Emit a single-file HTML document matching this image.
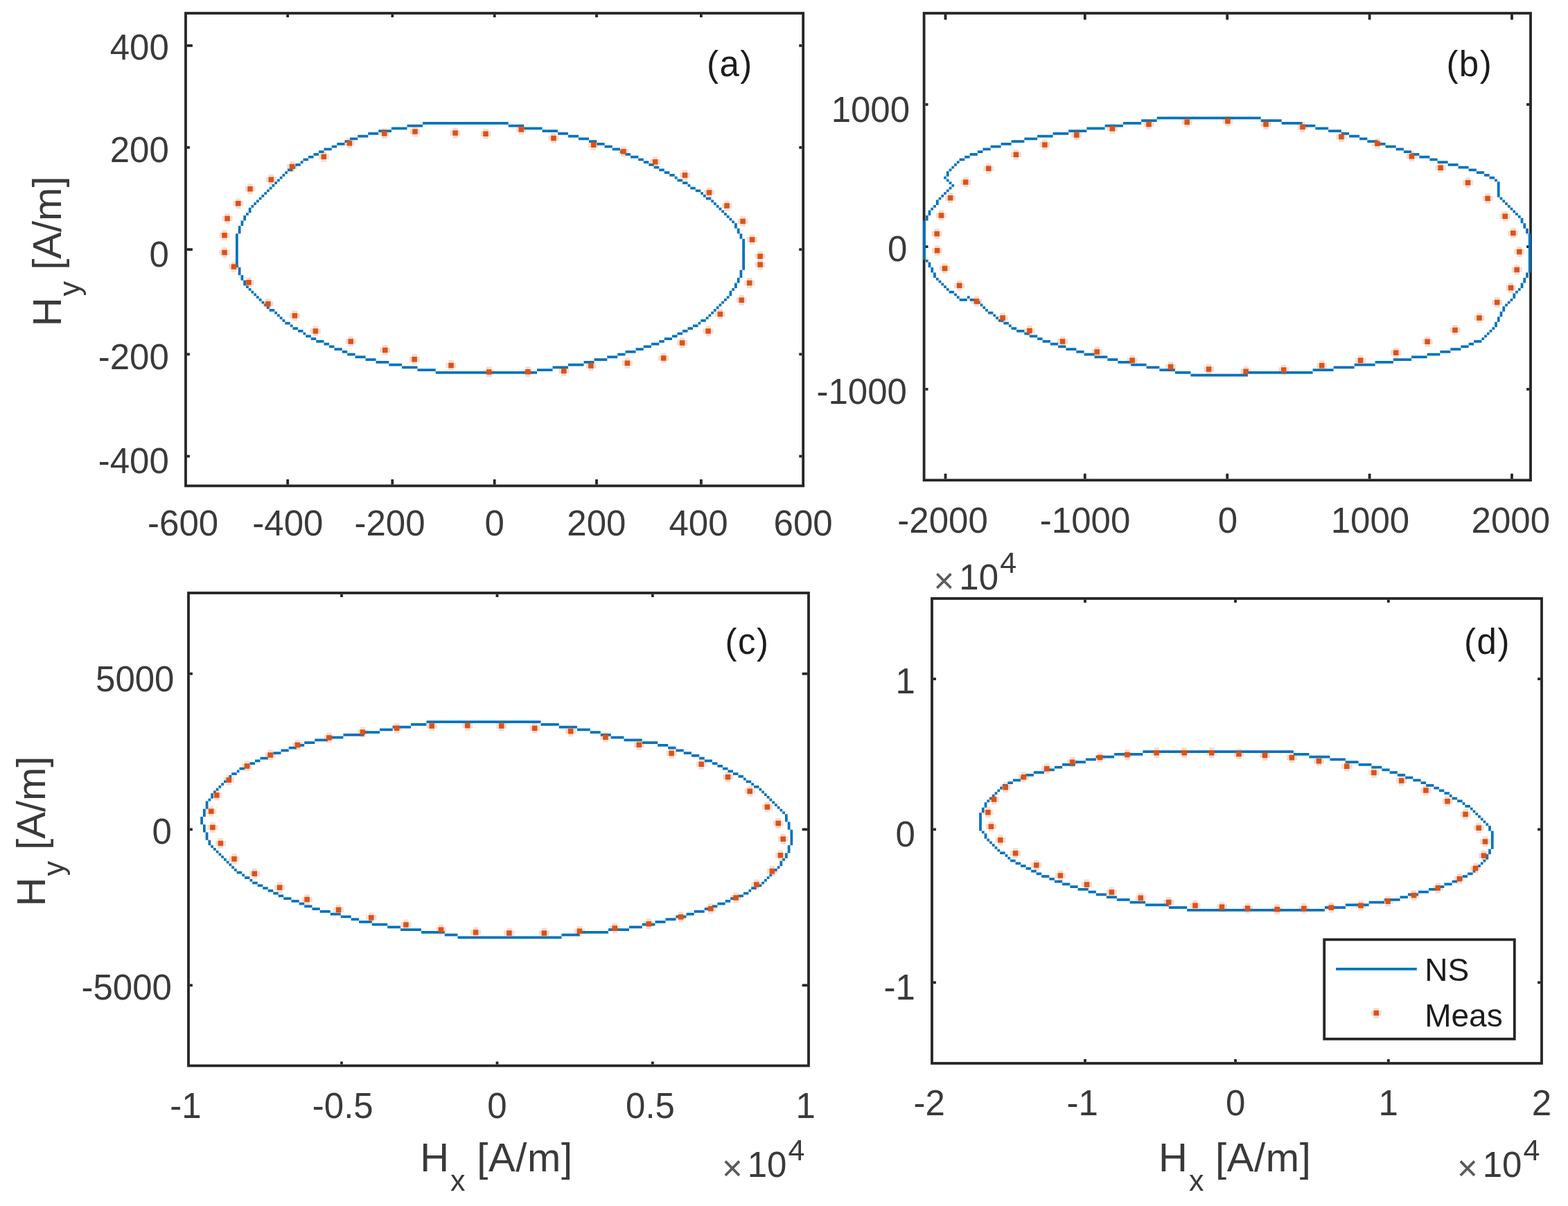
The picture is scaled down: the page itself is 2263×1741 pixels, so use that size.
<!DOCTYPE html>
<html lang="en"><head><meta charset="utf-8"><title>Figure</title>
<style>html,body{margin:0;padding:0;width:2263px;height:1741px;background:#fff}svg{display:block}text{font-family:"Liberation Sans",sans-serif;fill:#3a3a3a;font-size:51px}.l{font-size:58px}.s{font-size:43px}.e{font-size:43px}.x{fill:#5a5a5a}.g{fill:#1c1c1c;letter-spacing:1.5px}.k{fill:#1c1c1c;font-size:46px}.m{text-anchor:middle}.r{text-anchor:end}</style></head><body>
<svg width="2263" height="1741" viewBox="0 0 2263 1741">
<rect width="2263" height="1741" fill="#fff"/>
<g id="plot-a">
<rect x="268" y="19.05" width="891.1500000000001" height="682.35" fill="none" stroke="#262626" stroke-width="3.8"/>
<path d="M415.2,699.5v-7.5M415.2,20.95v4M566.3,699.5v-7.5M566.3,20.95v4M713.7,699.5v-7.5M713.7,20.95v4M861,699.5v-7.5M861,20.95v4M1011.9,699.5v-7.5M1011.9,20.95v4M269.9,65.8h8M1157.25,65.8h-4M269.9,212.9h4M1157.25,212.9h-4M269.9,360.1h8M1157.25,360.1h-4M269.9,511.4h4M1157.25,511.4h-4M269.9,658.6h4M1157.25,658.6h-4" stroke="#262626" stroke-width="3.8" fill="none"/>
<path d="M610.02,176.03h123.75v3.75h-123.75zM587.52,179.78h22.5v3.75h-22.5zM733.77,179.78h22.5v3.75h-22.5zM565.02,183.53h22.5v3.75h-22.5zM756.27,183.53h26.25v3.75h-26.25zM546.27,187.28h18.75v3.75h-18.75zM782.52,187.28h22.5v3.75h-22.5zM531.27,191.03h15v3.75h-15zM805.02,191.03h15v3.75h-15zM516.27,194.78h15v3.75h-15zM820.02,194.78h15v3.75h-15zM505.02,198.53h11.25v3.75h-11.25zM835.02,198.53h15v3.75h-15zM497.52,202.28h7.5v3.75h-7.5zM850.02,202.28h11.25v3.75h-11.25zM486.27,206.03h11.25v3.75h-11.25zM861.27,206.03h11.25v3.75h-11.25zM478.77,209.78h7.5v3.75h-7.5zM872.52,209.78h11.25v3.75h-11.25zM467.52,213.53h11.25v3.75h-11.25zM883.77,213.53h11.25v3.75h-11.25zM460.02,217.28h7.5v3.75h-7.5zM895.02,217.28h7.5v3.75h-7.5zM452.52,221.03h7.5v3.75h-7.5zM902.52,221.03h7.5v3.75h-7.5zM445.02,224.78h7.5v3.75h-7.5zM910.02,224.78h11.25v3.75h-11.25zM437.52,228.53h7.5v3.75h-7.5zM921.27,228.53h7.5v3.75h-7.5zM433.77,232.28h3.75v3.75h-3.75zM928.77,232.28h7.5v3.75h-7.5zM426.27,236.03h7.5v3.75h-7.5zM936.27,236.03h7.5v3.75h-7.5zM422.52,239.78h3.75v3.75h-3.75zM943.77,239.78h7.5v3.75h-7.5zM415.02,243.53h7.5v3.75h-7.5zM951.27,243.53h7.5v3.75h-7.5zM411.27,247.28h3.75v3.75h-3.75zM958.77,247.28h7.5v3.75h-7.5zM407.52,251.03h3.75v3.75h-3.75zM966.27,251.03h7.5v3.75h-7.5zM403.77,254.78h3.75v3.75h-3.75zM973.77,254.78h3.75v3.75h-3.75zM400.02,258.52h3.75v3.75h-3.75zM977.52,258.52h7.5v3.75h-7.5zM396.27,262.27h3.75v3.75h-3.75zM985.02,262.27h7.5v3.75h-7.5zM392.52,266.02h3.75v3.75h-3.75zM992.52,266.02h3.75v3.75h-3.75zM388.77,269.77h3.75v3.75h-3.75zM996.27,269.77h7.5v3.75h-7.5zM385.02,273.52h3.75v3.75h-3.75zM1003.77,273.52h7.5v3.75h-7.5zM381.27,277.27h3.75v3.75h-3.75zM1011.27,277.27h3.75v3.75h-3.75zM377.52,281.02h3.75v3.75h-3.75zM1015.02,281.02h3.75v3.75h-3.75zM373.77,284.77h3.75v3.75h-3.75zM1018.77,284.77h7.5v3.75h-7.5zM370.02,288.52h3.75v3.75h-3.75zM1026.28,288.52h3.75v3.75h-3.75zM366.27,292.27h3.75v3.75h-3.75zM1030.03,292.27h3.75v3.75h-3.75zM362.52,296.02h3.75v3.75h-3.75zM1033.78,296.02h3.75v3.75h-3.75zM358.77,299.77h3.75v3.75h-3.75zM1037.53,299.77h3.75v3.75h-3.75zM358.77,303.52h3.75v3.75h-3.75zM1041.28,303.52h3.75v3.75h-3.75zM355.02,307.27h3.75v3.75h-3.75zM1045.03,307.27h3.75v3.75h-3.75zM351.27,311.02h3.75v3.75h-3.75zM1048.78,311.02h3.75v3.75h-3.75zM351.27,314.77h3.75v3.75h-3.75zM1052.53,314.77h3.75v3.75h-3.75zM347.52,318.52h3.75v3.75h-3.75zM1056.28,318.52h3.75v3.75h-3.75zM347.52,322.27h3.75v3.75h-3.75zM1060.03,322.27h3.75v3.75h-3.75zM343.77,326.02h3.75v3.75h-3.75zM1060.03,326.02h3.75v3.75h-3.75zM343.77,329.77h3.75v3.75h-3.75zM1063.78,329.77h3.75v3.75h-3.75zM343.77,333.52h3.75v3.75h-3.75zM1063.78,333.52h3.75v3.75h-3.75zM340.02,337.27h3.75v3.75h-3.75zM1067.53,337.27h3.75v3.75h-3.75zM340.02,341.02h3.75v3.75h-3.75zM1067.53,341.02h3.75v3.75h-3.75zM340.02,344.77h3.75v3.75h-3.75zM1071.28,344.77h3.75v3.75h-3.75zM340.02,348.52h3.75v3.75h-3.75zM1071.28,348.52h3.75v3.75h-3.75zM340.02,352.27h3.75v3.75h-3.75zM1071.28,352.27h3.75v3.75h-3.75zM340.02,356.02h3.75v3.75h-3.75zM1071.28,356.02h3.75v3.75h-3.75zM340.02,359.77h3.75v3.75h-3.75zM1071.28,359.77h3.75v3.75h-3.75zM340.02,363.52h3.75v3.75h-3.75zM1071.28,363.52h3.75v3.75h-3.75zM340.02,367.27h3.75v3.75h-3.75zM1071.28,367.27h3.75v3.75h-3.75zM340.02,371.02h3.75v3.75h-3.75zM1071.28,371.02h3.75v3.75h-3.75zM340.02,374.77h3.75v3.75h-3.75zM1071.28,374.77h3.75v3.75h-3.75zM340.02,378.52h3.75v3.75h-3.75zM1071.28,378.52h3.75v3.75h-3.75zM340.02,382.27h3.75v3.75h-3.75zM1071.28,382.27h3.75v3.75h-3.75zM343.77,386.02h3.75v3.75h-3.75zM1071.28,386.02h3.75v3.75h-3.75zM343.77,389.77h3.75v3.75h-3.75zM1067.53,389.77h3.75v3.75h-3.75zM343.77,393.52h3.75v3.75h-3.75zM1067.53,393.52h3.75v3.75h-3.75zM347.52,397.27h3.75v3.75h-3.75zM1067.53,397.27h3.75v3.75h-3.75zM347.52,401.02h3.75v3.75h-3.75zM1063.78,401.02h3.75v3.75h-3.75zM351.27,404.77h3.75v3.75h-3.75zM1063.78,404.77h3.75v3.75h-3.75zM351.27,408.52h3.75v3.75h-3.75zM1060.03,408.52h3.75v3.75h-3.75zM355.02,412.27h3.75v3.75h-3.75zM1060.03,412.27h3.75v3.75h-3.75zM358.77,416.02h3.75v3.75h-3.75zM1056.28,416.02h3.75v3.75h-3.75zM362.52,419.77h3.75v3.75h-3.75zM1052.53,419.77h3.75v3.75h-3.75zM366.27,423.52h3.75v3.75h-3.75zM1052.53,423.52h3.75v3.75h-3.75zM370.02,427.27h3.75v3.75h-3.75zM1048.78,427.27h3.75v3.75h-3.75zM373.77,431.02h3.75v3.75h-3.75zM1045.03,431.02h3.75v3.75h-3.75zM377.52,434.77h3.75v3.75h-3.75zM1041.28,434.77h3.75v3.75h-3.75zM381.27,438.52h3.75v3.75h-3.75zM1037.53,438.52h3.75v3.75h-3.75zM385.02,442.27h3.75v3.75h-3.75zM1033.78,442.27h3.75v3.75h-3.75zM388.77,446.02h7.5v3.75h-7.5zM1030.03,446.02h3.75v3.75h-3.75zM396.27,449.77h3.75v3.75h-3.75zM1026.28,449.77h3.75v3.75h-3.75zM400.02,453.52h3.75v3.75h-3.75zM1022.52,453.52h3.75v3.75h-3.75zM403.77,457.27h3.75v3.75h-3.75zM1018.77,457.27h3.75v3.75h-3.75zM407.52,461.02h3.75v3.75h-3.75zM1011.27,461.02h7.5v3.75h-7.5zM411.27,464.77h7.5v3.75h-7.5zM1007.52,464.77h3.75v3.75h-3.75zM418.77,468.52h3.75v3.75h-3.75zM1000.02,468.52h7.5v3.75h-7.5zM422.52,472.27h7.5v3.75h-7.5zM992.52,472.27h7.5v3.75h-7.5zM430.02,476.02h7.5v3.75h-7.5zM985.02,476.02h7.5v3.75h-7.5zM437.52,479.77h3.75v3.75h-3.75zM977.52,479.77h7.5v3.75h-7.5zM441.27,483.52h7.5v3.75h-7.5zM970.02,483.52h7.5v3.75h-7.5zM448.77,487.27h7.5v3.75h-7.5zM958.77,487.27h11.25v3.75h-11.25zM456.27,491.02h11.25v3.75h-11.25zM951.27,491.02h7.5v3.75h-7.5zM467.52,494.77h7.5v3.75h-7.5zM940.02,494.77h11.25v3.75h-11.25zM475.02,498.52h7.5v3.75h-7.5zM928.77,498.52h11.25v3.75h-11.25zM482.52,502.27h11.25v3.75h-11.25zM917.52,502.27h11.25v3.75h-11.25zM493.77,506.02h7.5v3.75h-7.5zM902.52,506.02h15v3.75h-15zM501.27,509.77h11.25v3.75h-11.25zM891.27,509.77h11.25v3.75h-11.25zM512.52,513.52h15v3.75h-15zM876.27,513.52h15v3.75h-15zM527.52,517.27h15v3.75h-15zM857.52,517.27h18.75v3.75h-18.75zM542.52,521.02h18.75v3.75h-18.75zM842.52,521.02h15v3.75h-15zM561.27,524.77h18.75v3.75h-18.75zM820.02,524.77h22.5v3.75h-22.5zM580.02,528.52h22.5v3.75h-22.5zM797.52,528.52h22.5v3.75h-22.5zM602.52,532.27h26.25v3.75h-26.25zM775.02,532.27h22.5v3.75h-22.5zM628.77,536.02h146.25v3.75h-146.25z" fill="#0072BD"/>
<path d="M693.5,189.55h15v7.5h-15zM697.25,185.8h7.5v15h-7.5zM649.6,188.15h15v7.5h-15zM653.35,184.4h7.5v15h-7.5zM591.5,186.25h15v7.5h-15zM595.25,182.5h7.5v15h-7.5zM547.3,188.95h15v7.5h-15zM551.05,185.2h7.5v15h-7.5zM496.9,202.95h15v7.5h-15zM500.65,199.2h7.5v15h-7.5zM459.8,222.55h15v7.5h-15zM463.55,218.8h7.5v15h-7.5zM414,236.65h15v7.5h-15zM417.75,232.9h7.5v15h-7.5zM383.8,255.45h15v7.5h-15zM387.55,251.7h7.5v15h-7.5zM353.5,268.95h15v7.5h-15zM357.25,265.2h7.5v15h-7.5zM336.3,290.05h15v7.5h-15zM340.05,286.3h7.5v15h-7.5zM320.6,311.65h15v7.5h-15zM324.35,307.9h7.5v15h-7.5zM316.5,336.05h15v7.5h-15zM320.25,332.3h7.5v15h-7.5zM316.5,360.65h15v7.5h-15zM320.25,356.9h7.5v15h-7.5zM330,381.25h15v7.5h-15zM333.75,377.5h7.5v15h-7.5zM351.5,403.95h15v7.5h-15zM355.25,400.2h7.5v15h-7.5zM379.4,435.05h15v7.5h-15zM383.15,431.3h7.5v15h-7.5zM417.9,452.05h15v7.5h-15zM421.65,448.3h7.5v15h-7.5zM447.9,474.35h15v7.5h-15zM451.65,470.6h7.5v15h-7.5zM498.7,489.35h15v7.5h-15zM502.45,485.6h7.5v15h-7.5zM548.3,501.65h15v7.5h-15zM552.05,497.9h7.5v15h-7.5zM590.6,515.05h15v7.5h-15zM594.35,511.3h7.5v15h-7.5zM643.5,523.75h15v7.5h-15zM647.25,520h7.5v15h-7.5zM698.3,533.25h15v7.5h-15zM702.05,529.5h7.5v15h-7.5zM754.4,532.95h15v7.5h-15zM758.15,529.2h7.5v15h-7.5zM806.3,531.65h15v7.5h-15zM810.05,527.9h7.5v15h-7.5zM845.4,524.35h15v7.5h-15zM849.15,520.6h7.5v15h-7.5zM897.9,520.45h15v7.5h-15zM901.65,516.7h7.5v15h-7.5zM950.2,513.35h15v7.5h-15zM953.95,509.6h7.5v15h-7.5zM977.1,491.25h15v7.5h-15zM980.85,487.5h7.5v15h-7.5zM1014.6,474.35h15v7.5h-15zM1018.35,470.6h7.5v15h-7.5zM1031.9,449.85h15v7.5h-15zM1035.65,446.1h7.5v15h-7.5zM1062.7,429.45h15v7.5h-15zM1066.45,425.7h7.5v15h-7.5zM1074.2,404.85h15v7.5h-15zM1077.95,401.1h7.5v15h-7.5zM1089.6,378.35h15v7.5h-15zM1093.35,374.6h7.5v15h-7.5zM1089.6,366.15h15v7.5h-15zM1093.35,362.4h7.5v15h-7.5zM1078.1,342.35h15v7.5h-15zM1081.85,338.6h7.5v15h-7.5zM1064.6,315.85h15v7.5h-15zM1068.35,312.1h7.5v15h-7.5zM1041.5,293.35h15v7.5h-15zM1045.25,289.6h7.5v15h-7.5zM1016,274.15h15v7.5h-15zM1019.75,270.4h7.5v15h-7.5zM981,249.15h15v7.5h-15zM984.75,245.4h7.5v15h-7.5zM938.1,229.95h15v7.5h-15zM941.85,226.2h7.5v15h-7.5zM892.5,214.95h15v7.5h-15zM896.25,211.2h7.5v15h-7.5zM849.2,205.45h15v7.5h-15zM852.95,201.7h7.5v15h-7.5zM791.5,195.85h15v7.5h-15zM795.25,192.1h7.5v15h-7.5zM744.8,183.35h15v7.5h-15zM748.55,179.6h7.5v15h-7.5z" fill="#D95319" fill-opacity=".2"/>
<path d="M697.25,189.55h7.5v7.5h-7.5zM653.35,188.15h7.5v7.5h-7.5zM595.25,186.25h7.5v7.5h-7.5zM551.05,188.95h7.5v7.5h-7.5zM500.65,202.95h7.5v7.5h-7.5zM463.55,222.55h7.5v7.5h-7.5zM417.75,236.65h7.5v7.5h-7.5zM387.55,255.45h7.5v7.5h-7.5zM357.25,268.95h7.5v7.5h-7.5zM340.05,290.05h7.5v7.5h-7.5zM324.35,311.65h7.5v7.5h-7.5zM320.25,336.05h7.5v7.5h-7.5zM320.25,360.65h7.5v7.5h-7.5zM333.75,381.25h7.5v7.5h-7.5zM355.25,403.95h7.5v7.5h-7.5zM383.15,435.05h7.5v7.5h-7.5zM421.65,452.05h7.5v7.5h-7.5zM451.65,474.35h7.5v7.5h-7.5zM502.45,489.35h7.5v7.5h-7.5zM552.05,501.65h7.5v7.5h-7.5zM594.35,515.05h7.5v7.5h-7.5zM647.25,523.75h7.5v7.5h-7.5zM702.05,533.25h7.5v7.5h-7.5zM758.15,532.95h7.5v7.5h-7.5zM810.05,531.65h7.5v7.5h-7.5zM849.15,524.35h7.5v7.5h-7.5zM901.65,520.45h7.5v7.5h-7.5zM953.95,513.35h7.5v7.5h-7.5zM980.85,491.25h7.5v7.5h-7.5zM1018.35,474.35h7.5v7.5h-7.5zM1035.65,449.85h7.5v7.5h-7.5zM1066.45,429.45h7.5v7.5h-7.5zM1077.95,404.85h7.5v7.5h-7.5zM1093.35,378.35h7.5v7.5h-7.5zM1093.35,366.15h7.5v7.5h-7.5zM1081.85,342.35h7.5v7.5h-7.5zM1068.35,315.85h7.5v7.5h-7.5zM1045.25,293.35h7.5v7.5h-7.5zM1019.75,274.15h7.5v7.5h-7.5zM984.75,249.15h7.5v7.5h-7.5zM941.85,229.95h7.5v7.5h-7.5zM896.25,214.95h7.5v7.5h-7.5zM852.95,205.45h7.5v7.5h-7.5zM795.25,195.85h7.5v7.5h-7.5zM748.55,183.35h7.5v7.5h-7.5z" fill="#D95319"/>
<text class="m" x="264.1" y="772.5">-600</text>
<text class="m" x="415.4" y="772.5">-400</text>
<text class="m" x="562.5" y="772.5">-200</text>
<text class="m" x="713.7" y="772.5">0</text>
<text class="m" x="860.9" y="772.5">200</text>
<text class="m" x="1008" y="772.5">400</text>
<text class="m" x="1159.1" y="772.5">600</text>
<text class="r" x="243.8" y="86.1">400</text>
<text class="r" x="243.8" y="234">200</text>
<text class="r" x="243.8" y="384.8">0</text>
<text class="r" x="243.8" y="532.6">-200</text>
<text class="r" x="243.8" y="683">-400</text>
<text class="g m" x="1053.4" y="110">(a)</text>
</g>
<g id="plot-b">
<rect x="1333.6" y="19.05" width="875.4000000000001" height="674.1500000000001" fill="none" stroke="#262626" stroke-width="3.8"/>
<path d="M1364.5,691.3v-7.5M1364.5,20.95v7.5M1565.8,691.3v-7.5M1565.8,20.95v7.5M1771.2,691.3v-7.5M1771.2,20.95v7.5M1976.6,691.3v-7.5M1976.6,20.95v7.5M2182,691.3v-7.5M2182,20.95v7.5M1335.5,150.8h4M2207.1,150.8h-4M1335.5,356.2h4M2207.1,356.2h-4M1335.5,561.9h4M2207.1,561.9h-4" stroke="#262626" stroke-width="3.8" fill="none"/>
<path d="M1669.62,168.53h150v3.75h-150zM1647.12,172.28h22.5v3.75h-22.5zM1819.62,172.28h30v3.75h-30zM1620.88,176.03h26.25v3.75h-26.25zM1849.62,176.03h30v3.75h-30zM1594.62,179.78h26.25v3.75h-26.25zM1879.62,179.78h18.75v3.75h-18.75zM1568.38,183.53h26.25v3.75h-26.25zM1898.38,183.53h18.75v3.75h-18.75zM1542.12,187.28h26.25v3.75h-26.25zM1917.12,187.28h18.75v3.75h-18.75zM1519.62,191.03h22.5v3.75h-22.5zM1935.88,191.03h11.25v3.75h-11.25zM1497.12,194.78h22.5v3.75h-22.5zM1947.12,194.78h15v3.75h-15zM1478.38,198.53h18.75v3.75h-18.75zM1962.12,198.53h11.25v3.75h-11.25zM1459.62,202.28h18.75v3.75h-18.75zM1973.38,202.28h15v3.75h-15zM1444.62,206.03h15v3.75h-15zM1988.38,206.03h11.25v3.75h-11.25zM1429.62,209.78h15v3.75h-15zM1999.62,209.78h15v3.75h-15zM1418.38,213.53h11.25v3.75h-11.25zM2014.62,213.53h11.25v3.75h-11.25zM1410.88,217.28h7.5v3.75h-7.5zM2025.88,217.28h11.25v3.75h-11.25zM1399.62,221.03h11.25v3.75h-11.25zM2037.12,221.03h11.25v3.75h-11.25zM1392.12,224.78h7.5v3.75h-7.5zM2048.38,224.78h15v3.75h-15zM1384.62,228.53h7.5v3.75h-7.5zM2063.38,228.53h11.25v3.75h-11.25zM1380.88,232.28h3.75v3.75h-3.75zM2074.62,232.28h15v3.75h-15zM1377.12,236.03h3.75v3.75h-3.75zM2089.62,236.03h15v3.75h-15zM1373.38,239.78h3.75v3.75h-3.75zM2104.62,239.78h15v3.75h-15zM1369.62,243.53h3.75v3.75h-3.75zM2119.62,243.53h11.25v3.75h-11.25zM1365.88,247.28h3.75v3.75h-3.75zM2130.88,247.28h11.25v3.75h-11.25zM1365.88,251.03h3.75v3.75h-3.75zM2142.12,251.03h7.5v3.75h-7.5zM1362.12,254.78h3.75v3.75h-3.75zM2149.62,254.78h7.5v3.75h-7.5zM1365.88,258.52h3.75v3.75h-3.75zM2157.12,258.52h3.75v3.75h-3.75zM1369.62,262.27h3.75v3.75h-3.75zM2160.88,262.27h3.75v3.75h-3.75zM1373.38,266.02h3.75v3.75h-3.75zM2160.88,266.02h3.75v3.75h-3.75zM1369.62,269.77h3.75v3.75h-3.75zM2160.88,269.77h3.75v3.75h-3.75zM1365.88,273.52h3.75v3.75h-3.75zM2160.88,273.52h3.75v3.75h-3.75zM1362.12,277.27h3.75v3.75h-3.75zM2160.88,277.27h3.75v3.75h-3.75zM1358.38,281.02h3.75v3.75h-3.75zM2160.88,281.02h3.75v3.75h-3.75zM1354.62,284.77h3.75v3.75h-3.75zM2164.62,284.77h3.75v3.75h-3.75zM1350.88,288.52h3.75v3.75h-3.75zM2168.38,288.52h3.75v3.75h-3.75zM1350.88,292.27h3.75v3.75h-3.75zM2172.12,292.27h3.75v3.75h-3.75zM1347.12,296.02h3.75v3.75h-3.75zM2175.88,296.02h3.75v3.75h-3.75zM1343.38,299.77h3.75v3.75h-3.75zM2179.62,299.77h3.75v3.75h-3.75zM1339.62,303.52h3.75v3.75h-3.75zM2183.38,303.52h3.75v3.75h-3.75zM1339.62,307.27h3.75v3.75h-3.75zM2187.12,307.27h3.75v3.75h-3.75zM1335.88,311.02h3.75v3.75h-3.75zM2190.88,311.02h3.75v3.75h-3.75zM1335.88,314.77h3.75v3.75h-3.75zM2194.62,314.77h3.75v3.75h-3.75zM1332.12,318.52h3.75v3.75h-3.75zM2194.62,318.52h3.75v3.75h-3.75zM1332.12,322.27h3.75v3.75h-3.75zM2198.38,322.27h3.75v3.75h-3.75zM1332.12,326.02h3.75v3.75h-3.75zM2198.38,326.02h3.75v3.75h-3.75zM1332.12,329.77h3.75v3.75h-3.75zM2202.12,329.77h3.75v3.75h-3.75zM1332.12,333.52h3.75v3.75h-3.75zM2202.12,333.52h3.75v3.75h-3.75zM1332.12,337.27h3.75v3.75h-3.75zM2205.88,337.27h3.75v3.75h-3.75zM1332.12,341.02h3.75v3.75h-3.75zM2205.88,341.02h3.75v3.75h-3.75zM1332.12,344.77h3.75v3.75h-3.75zM2205.88,344.77h3.75v3.75h-3.75zM1332.12,348.52h3.75v3.75h-3.75zM2205.88,348.52h3.75v3.75h-3.75zM1332.12,352.27h3.75v3.75h-3.75zM2205.88,352.27h3.75v3.75h-3.75zM1332.12,356.02h3.75v3.75h-3.75zM2205.88,356.02h3.75v3.75h-3.75zM1332.12,359.77h3.75v3.75h-3.75zM2205.88,359.77h3.75v3.75h-3.75zM1332.12,363.52h3.75v3.75h-3.75zM2205.88,363.52h3.75v3.75h-3.75zM1332.12,367.27h3.75v3.75h-3.75zM2205.88,367.27h3.75v3.75h-3.75zM1332.12,371.02h3.75v3.75h-3.75zM2205.88,371.02h3.75v3.75h-3.75zM1335.88,374.77h3.75v3.75h-3.75zM2205.88,374.77h3.75v3.75h-3.75zM1339.62,378.52h3.75v3.75h-3.75zM2205.88,378.52h3.75v3.75h-3.75zM1339.62,382.27h3.75v3.75h-3.75zM2205.88,382.27h3.75v3.75h-3.75zM1343.38,386.02h3.75v3.75h-3.75zM2205.88,386.02h3.75v3.75h-3.75zM1343.38,389.77h3.75v3.75h-3.75zM2205.88,389.77h3.75v3.75h-3.75zM1347.12,393.52h3.75v3.75h-3.75zM2202.12,393.52h3.75v3.75h-3.75zM1347.12,397.27h3.75v3.75h-3.75zM2202.12,397.27h3.75v3.75h-3.75zM1350.88,401.02h3.75v3.75h-3.75zM2198.38,401.02h3.75v3.75h-3.75zM1354.62,404.77h3.75v3.75h-3.75zM2198.38,404.77h3.75v3.75h-3.75zM1358.38,408.52h3.75v3.75h-3.75zM2194.62,408.52h3.75v3.75h-3.75zM1362.12,412.27h3.75v3.75h-3.75zM2194.62,412.27h3.75v3.75h-3.75zM1365.88,416.02h3.75v3.75h-3.75zM2190.88,416.02h3.75v3.75h-3.75zM1369.62,419.77h7.5v3.75h-7.5zM2187.12,419.77h3.75v3.75h-3.75zM1377.12,423.52h3.75v3.75h-3.75zM2183.38,423.52h3.75v3.75h-3.75zM1380.88,427.27h3.75v3.75h-3.75zM1395.88,427.27h3.75v3.75h-3.75zM2183.38,427.27h3.75v3.75h-3.75zM1384.62,431.02h11.25v3.75h-11.25zM1399.62,431.02h7.5v3.75h-7.5zM2179.62,431.02h3.75v3.75h-3.75zM1407.12,434.77h7.5v3.75h-7.5zM2175.88,434.77h3.75v3.75h-3.75zM1414.62,438.52h3.75v3.75h-3.75zM2172.12,438.52h3.75v3.75h-3.75zM1418.38,442.27h3.75v3.75h-3.75zM2168.38,442.27h3.75v3.75h-3.75zM1422.12,446.02h3.75v3.75h-3.75zM2168.38,446.02h3.75v3.75h-3.75zM1425.88,449.77h7.5v3.75h-7.5zM2164.62,449.77h3.75v3.75h-3.75zM1433.38,453.52h3.75v3.75h-3.75zM2164.62,453.52h3.75v3.75h-3.75zM1437.12,457.27h3.75v3.75h-3.75zM2160.88,457.27h3.75v3.75h-3.75zM1440.88,461.02h7.5v3.75h-7.5zM2160.88,461.02h3.75v3.75h-3.75zM1448.38,464.77h7.5v3.75h-7.5zM2157.12,464.77h3.75v3.75h-3.75zM1455.88,468.52h3.75v3.75h-3.75zM2157.12,468.52h3.75v3.75h-3.75zM1459.62,472.27h7.5v3.75h-7.5zM2153.38,472.27h3.75v3.75h-3.75zM1467.12,476.02h11.25v3.75h-11.25zM2149.62,476.02h3.75v3.75h-3.75zM1478.38,479.77h7.5v3.75h-7.5zM2145.88,479.77h3.75v3.75h-3.75zM1485.88,483.52h11.25v3.75h-11.25zM2142.12,483.52h3.75v3.75h-3.75zM1497.12,487.27h7.5v3.75h-7.5zM2138.38,487.27h3.75v3.75h-3.75zM1504.62,491.02h11.25v3.75h-11.25zM2127.12,491.02h11.25v3.75h-11.25zM1515.88,494.77h11.25v3.75h-11.25zM2119.62,494.77h7.5v3.75h-7.5zM1527.12,498.52h11.25v3.75h-11.25zM2108.38,498.52h11.25v3.75h-11.25zM1538.38,502.27h15v3.75h-15zM2093.38,502.27h15v3.75h-15zM1553.38,506.02h11.25v3.75h-11.25zM2078.38,506.02h15v3.75h-15zM1564.62,509.77h15v3.75h-15zM2059.62,509.77h18.75v3.75h-18.75zM1579.62,513.52h18.75v3.75h-18.75zM2037.12,513.52h22.5v3.75h-22.5zM1598.38,517.27h15v3.75h-15zM2010.88,517.27h26.25v3.75h-26.25zM1613.38,521.02h18.75v3.75h-18.75zM1984.62,521.02h26.25v3.75h-26.25zM1632.12,524.77h22.5v3.75h-22.5zM1954.62,524.77h30v3.75h-30zM1654.62,528.52h18.75v3.75h-18.75zM1924.62,528.52h30v3.75h-30zM1673.38,532.27h22.5v3.75h-22.5zM1894.62,532.27h30v3.75h-30zM1695.88,536.02h22.5v3.75h-22.5zM1800.88,536.02h93.75v3.75h-93.75zM1718.38,539.77h82.5v3.75h-82.5z" fill="#0072BD"/>
<path d="M1764.4,171.15h15v7.5h-15zM1768.15,167.4h7.5v15h-7.5zM1705.7,172.55h15v7.5h-15zM1709.45,168.8h7.5v15h-7.5zM1650.5,175.75h15v7.5h-15zM1654.25,172h7.5v15h-7.5zM1597.9,182.05h15v7.5h-15zM1601.65,178.3h7.5v15h-7.5zM1546.3,191.15h15v7.5h-15zM1550.05,187.4h7.5v15h-7.5zM1500.4,205.25h15v7.5h-15zM1504.15,201.5h7.5v15h-7.5zM1458.9,219.55h15v7.5h-15zM1462.65,215.8h7.5v15h-7.5zM1419.3,239.55h15v7.5h-15zM1423.05,235.8h7.5v15h-7.5zM1386.2,259.35h15v7.5h-15zM1389.95,255.6h7.5v15h-7.5zM1364.1,282.05h15v7.5h-15zM1367.85,278.3h7.5v15h-7.5zM1351,307.35h15v7.5h-15zM1354.75,303.6h7.5v15h-7.5zM1344.7,333.65h15v7.5h-15zM1348.45,329.9h7.5v15h-7.5zM1345.1,357.95h15v7.5h-15zM1348.85,354.2h7.5v15h-7.5zM1356.1,383.85h15v7.5h-15zM1359.85,380.1h7.5v15h-7.5zM1377.2,408.45h15v7.5h-15zM1380.95,404.7h7.5v15h-7.5zM1402,431.25h15v7.5h-15zM1405.75,427.5h7.5v15h-7.5zM1439.6,455.15h15v7.5h-15zM1443.35,451.4h7.5v15h-7.5zM1478.4,473.85h15v7.5h-15zM1482.15,470.1h7.5v15h-7.5zM1526.1,489.25h15v7.5h-15zM1529.85,485.5h7.5v15h-7.5zM1575.7,504.15h15v7.5h-15zM1579.45,500.4h7.5v15h-7.5zM1626.6,516.45h15v7.5h-15zM1630.35,512.7h7.5v15h-7.5zM1682.1,525.75h15v7.5h-15zM1685.85,522h7.5v15h-7.5zM1737.1,529.25h15v7.5h-15zM1740.85,525.5h7.5v15h-7.5zM1790.6,532.55h15v7.5h-15zM1794.35,528.8h7.5v15h-7.5zM1845.2,530.35h15v7.5h-15zM1848.95,526.6h7.5v15h-7.5zM1900.2,523.95h15v7.5h-15zM1903.95,520.2h7.5v15h-7.5zM1956.1,516.45h15v7.5h-15zM1959.85,512.7h7.5v15h-7.5zM2007.2,505.45h15v7.5h-15zM2010.95,501.7h7.5v15h-7.5zM2052.6,489.55h15v7.5h-15zM2056.35,485.8h7.5v15h-7.5zM2092.5,472.65h15v7.5h-15zM2096.25,468.9h7.5v15h-7.5zM2127.5,455.15h15v7.5h-15zM2131.25,451.4h7.5v15h-7.5zM2153.2,432.85h15v7.5h-15zM2156.95,429.1h7.5v15h-7.5zM2173.1,411.65h15v7.5h-15zM2176.85,407.9h7.5v15h-7.5zM2181.7,385.75h15v7.5h-15zM2185.45,382h7.5v15h-7.5zM2185.3,359.65h15v7.5h-15zM2189.05,355.9h7.5v15h-7.5zM2176.3,332.65h15v7.5h-15zM2180.05,328.9h7.5v15h-7.5zM2164.7,308.45h15v7.5h-15zM2168.45,304.7h7.5v15h-7.5zM2139.6,282.75h15v7.5h-15zM2143.35,279h7.5v15h-7.5zM2111,259.95h15v7.5h-15zM2114.75,256.2h7.5v15h-7.5zM2071.6,238.45h15v7.5h-15zM2075.35,234.7h7.5v15h-7.5zM2029.9,222.05h15v7.5h-15zM2033.65,218.3h7.5v15h-7.5zM1980.4,203.55h15v7.5h-15zM1984.15,199.8h7.5v15h-7.5zM1928.4,193.65h15v7.5h-15zM1932.15,189.9h7.5v15h-7.5zM1872.5,179.55h15v7.5h-15zM1876.25,175.8h7.5v15h-7.5zM1819.5,175.75h15v7.5h-15zM1823.25,172h7.5v15h-7.5z" fill="#D95319" fill-opacity=".2"/>
<path d="M1768.15,171.15h7.5v7.5h-7.5zM1709.45,172.55h7.5v7.5h-7.5zM1654.25,175.75h7.5v7.5h-7.5zM1601.65,182.05h7.5v7.5h-7.5zM1550.05,191.15h7.5v7.5h-7.5zM1504.15,205.25h7.5v7.5h-7.5zM1462.65,219.55h7.5v7.5h-7.5zM1423.05,239.55h7.5v7.5h-7.5zM1389.95,259.35h7.5v7.5h-7.5zM1367.85,282.05h7.5v7.5h-7.5zM1354.75,307.35h7.5v7.5h-7.5zM1348.45,333.65h7.5v7.5h-7.5zM1348.85,357.95h7.5v7.5h-7.5zM1359.85,383.85h7.5v7.5h-7.5zM1380.95,408.45h7.5v7.5h-7.5zM1405.75,431.25h7.5v7.5h-7.5zM1443.35,455.15h7.5v7.5h-7.5zM1482.15,473.85h7.5v7.5h-7.5zM1529.85,489.25h7.5v7.5h-7.5zM1579.45,504.15h7.5v7.5h-7.5zM1630.35,516.45h7.5v7.5h-7.5zM1685.85,525.75h7.5v7.5h-7.5zM1740.85,529.25h7.5v7.5h-7.5zM1794.35,532.55h7.5v7.5h-7.5zM1848.95,530.35h7.5v7.5h-7.5zM1903.95,523.95h7.5v7.5h-7.5zM1959.85,516.45h7.5v7.5h-7.5zM2010.95,505.45h7.5v7.5h-7.5zM2056.35,489.55h7.5v7.5h-7.5zM2096.25,472.65h7.5v7.5h-7.5zM2131.25,455.15h7.5v7.5h-7.5zM2156.95,432.85h7.5v7.5h-7.5zM2176.85,411.65h7.5v7.5h-7.5zM2185.45,385.75h7.5v7.5h-7.5zM2189.05,359.65h7.5v7.5h-7.5zM2180.05,332.65h7.5v7.5h-7.5zM2168.45,308.45h7.5v7.5h-7.5zM2143.35,282.75h7.5v7.5h-7.5zM2114.75,259.95h7.5v7.5h-7.5zM2075.35,238.45h7.5v7.5h-7.5zM2033.65,222.05h7.5v7.5h-7.5zM1984.15,203.55h7.5v7.5h-7.5zM1932.15,193.65h7.5v7.5h-7.5zM1876.25,179.55h7.5v7.5h-7.5zM1823.25,175.75h7.5v7.5h-7.5z" fill="#D95319"/>
<text class="m" x="1360.6" y="769.2">-2000</text>
<text class="m" x="1566.1" y="769.2">-1000</text>
<text class="m" x="1771.9" y="769.2">0</text>
<text class="m" x="1977.4" y="769.2">1000</text>
<text class="m" x="2180.3" y="769.2">2000</text>
<text class="r" x="1313.1" y="175.9">1000</text>
<text class="r" x="1309.4" y="377.3">0</text>
<text class="r" x="1308.9" y="582.6">-1000</text>
<text class="g m" x="2120.8" y="110">(b)</text>
</g>
<g id="plot-c">
<rect x="272" y="856" width="895" height="682.5" fill="none" stroke="#262626" stroke-width="3.8"/>
<path d="M493,1536.6v-4M493,857.9v4M717.5,1536.6v-4M717.5,857.9v4M941.9,1536.6v-4M941.9,857.9v4M273.9,972.7h4M1165.1,972.7h-7.5M273.9,1197.3h4M1165.1,1197.3h-7.5M273.9,1422.3h4M1165.1,1422.3h-7.5" stroke="#262626" stroke-width="3.8" fill="none"/>
<path d="M615.48,1040.22h165v3.75h-165zM592.98,1043.97h22.5v3.75h-22.5zM780.48,1043.97h26.25v3.75h-26.25zM566.73,1047.72h26.25v3.75h-26.25zM806.73,1047.72h26.25v3.75h-26.25zM547.98,1051.47h18.75v3.75h-18.75zM832.98,1051.47h18.75v3.75h-18.75zM525.48,1055.22h22.5v3.75h-22.5zM851.73,1055.22h15v3.75h-15zM495.48,1058.97h30v3.75h-30zM866.73,1058.97h15v3.75h-15zM472.98,1062.72h22.5v3.75h-22.5zM881.73,1062.72h18.75v3.75h-18.75zM454.23,1066.47h18.75v3.75h-18.75zM900.48,1066.47h26.25v3.75h-26.25zM439.23,1070.22h15v3.75h-15zM926.73,1070.22h22.5v3.75h-22.5zM427.98,1073.97h11.25v3.75h-11.25zM949.23,1073.97h15v3.75h-15zM416.73,1077.72h11.25v3.75h-11.25zM964.23,1077.72h11.25v3.75h-11.25zM405.48,1081.47h11.25v3.75h-11.25zM975.48,1081.47h11.25v3.75h-11.25zM394.23,1085.22h11.25v3.75h-11.25zM986.73,1085.22h11.25v3.75h-11.25zM386.73,1088.97h7.5v3.75h-7.5zM997.98,1088.97h11.25v3.75h-11.25zM375.48,1092.72h11.25v3.75h-11.25zM1009.23,1092.72h7.5v3.75h-7.5zM367.98,1096.47h7.5v3.75h-7.5zM1016.73,1096.47h11.25v3.75h-11.25zM360.48,1100.22h7.5v3.75h-7.5zM1027.97,1100.22h7.5v3.75h-7.5zM352.98,1103.97h7.5v3.75h-7.5zM1035.47,1103.97h7.5v3.75h-7.5zM345.48,1107.72h7.5v3.75h-7.5zM1042.97,1107.72h7.5v3.75h-7.5zM341.73,1111.47h3.75v3.75h-3.75zM1050.47,1111.47h7.5v3.75h-7.5zM334.23,1115.22h7.5v3.75h-7.5zM1057.97,1115.22h7.5v3.75h-7.5zM330.48,1118.97h3.75v3.75h-3.75zM1065.47,1118.97h7.5v3.75h-7.5zM326.73,1122.72h3.75v3.75h-3.75zM1072.97,1122.72h3.75v3.75h-3.75zM322.98,1126.47h3.75v3.75h-3.75zM1076.72,1126.47h7.5v3.75h-7.5zM319.23,1130.22h3.75v3.75h-3.75zM1084.22,1130.22h3.75v3.75h-3.75zM315.48,1133.97h3.75v3.75h-3.75zM1087.97,1133.97h7.5v3.75h-7.5zM311.73,1137.72h3.75v3.75h-3.75zM1095.47,1137.72h3.75v3.75h-3.75zM307.98,1141.47h3.75v3.75h-3.75zM1099.22,1141.47h3.75v3.75h-3.75zM304.23,1145.22h3.75v3.75h-3.75zM1102.97,1145.22h3.75v3.75h-3.75zM304.23,1148.97h3.75v3.75h-3.75zM1106.72,1148.97h3.75v3.75h-3.75zM300.48,1152.72h3.75v3.75h-3.75zM1110.47,1152.72h3.75v3.75h-3.75zM296.73,1156.47h3.75v3.75h-3.75zM1114.22,1156.47h3.75v3.75h-3.75zM296.73,1160.22h3.75v3.75h-3.75zM1117.97,1160.22h3.75v3.75h-3.75zM296.73,1163.97h3.75v3.75h-3.75zM1121.72,1163.97h3.75v3.75h-3.75zM292.98,1167.72h3.75v3.75h-3.75zM1125.47,1167.72h3.75v3.75h-3.75zM292.98,1171.47h3.75v3.75h-3.75zM1129.22,1171.47h3.75v3.75h-3.75zM292.98,1175.22h3.75v3.75h-3.75zM1132.97,1175.22h3.75v3.75h-3.75zM289.23,1178.97h3.75v3.75h-3.75zM1132.97,1178.97h3.75v3.75h-3.75zM289.23,1182.72h3.75v3.75h-3.75zM1132.97,1182.72h3.75v3.75h-3.75zM289.23,1186.47h3.75v3.75h-3.75zM1136.72,1186.47h3.75v3.75h-3.75zM292.98,1190.22h3.75v3.75h-3.75zM1136.72,1190.22h3.75v3.75h-3.75zM292.98,1193.97h3.75v3.75h-3.75zM1136.72,1193.97h3.75v3.75h-3.75zM292.98,1197.72h3.75v3.75h-3.75zM1140.47,1197.72h3.75v3.75h-3.75zM296.73,1201.47h3.75v3.75h-3.75zM1140.47,1201.47h3.75v3.75h-3.75zM296.73,1205.22h3.75v3.75h-3.75zM1140.47,1205.22h3.75v3.75h-3.75zM296.73,1208.97h3.75v3.75h-3.75zM1140.47,1208.97h3.75v3.75h-3.75zM300.48,1212.72h3.75v3.75h-3.75zM1140.47,1212.72h3.75v3.75h-3.75zM300.48,1216.47h3.75v3.75h-3.75zM1140.47,1216.47h3.75v3.75h-3.75zM304.23,1220.22h3.75v3.75h-3.75zM1136.72,1220.22h3.75v3.75h-3.75zM307.98,1223.97h3.75v3.75h-3.75zM1136.72,1223.97h3.75v3.75h-3.75zM311.73,1227.72h3.75v3.75h-3.75zM1136.72,1227.72h3.75v3.75h-3.75zM315.48,1231.47h3.75v3.75h-3.75zM1132.97,1231.47h3.75v3.75h-3.75zM319.23,1235.22h3.75v3.75h-3.75zM1132.97,1235.22h3.75v3.75h-3.75zM322.98,1238.97h3.75v3.75h-3.75zM1129.22,1238.97h3.75v3.75h-3.75zM326.73,1242.72h3.75v3.75h-3.75zM1125.47,1242.72h3.75v3.75h-3.75zM330.48,1246.47h3.75v3.75h-3.75zM1125.47,1246.47h3.75v3.75h-3.75zM334.23,1250.22h3.75v3.75h-3.75zM1121.72,1250.22h3.75v3.75h-3.75zM337.98,1253.97h3.75v3.75h-3.75zM1117.97,1253.97h3.75v3.75h-3.75zM341.73,1257.72h7.5v3.75h-7.5zM1114.22,1257.72h3.75v3.75h-3.75zM349.23,1261.47h3.75v3.75h-3.75zM1110.47,1261.47h3.75v3.75h-3.75zM352.98,1265.22h7.5v3.75h-7.5zM1106.72,1265.22h3.75v3.75h-3.75zM360.48,1268.97h3.75v3.75h-3.75zM1102.97,1268.97h3.75v3.75h-3.75zM364.23,1272.72h7.5v3.75h-7.5zM1099.22,1272.72h3.75v3.75h-3.75zM371.73,1276.47h7.5v3.75h-7.5zM1091.72,1276.47h7.5v3.75h-7.5zM379.23,1280.22h7.5v3.75h-7.5zM1084.22,1280.22h7.5v3.75h-7.5zM386.73,1283.97h7.5v3.75h-7.5zM1080.47,1283.97h3.75v3.75h-3.75zM394.23,1287.72h7.5v3.75h-7.5zM1072.97,1287.72h7.5v3.75h-7.5zM401.73,1291.47h7.5v3.75h-7.5zM1065.47,1291.47h7.5v3.75h-7.5zM409.23,1295.22h11.25v3.75h-11.25zM1054.22,1295.22h11.25v3.75h-11.25zM420.48,1298.97h11.25v3.75h-11.25zM1046.72,1298.97h7.5v3.75h-7.5zM431.73,1302.72h7.5v3.75h-7.5zM1035.47,1302.72h11.25v3.75h-11.25zM439.23,1306.47h11.25v3.75h-11.25zM1027.97,1306.47h7.5v3.75h-7.5zM450.48,1310.22h11.25v3.75h-11.25zM1016.73,1310.22h11.25v3.75h-11.25zM461.73,1313.97h15v3.75h-15zM1001.73,1313.97h15v3.75h-15zM476.73,1317.72h15v3.75h-15zM990.48,1317.72h11.25v3.75h-11.25zM491.73,1321.47h15v3.75h-15zM975.48,1321.47h15v3.75h-15zM506.73,1325.22h11.25v3.75h-11.25zM960.48,1325.22h15v3.75h-15zM517.98,1328.97h18.75v3.75h-18.75zM945.48,1328.97h15v3.75h-15zM536.73,1332.72h22.5v3.75h-22.5zM926.73,1332.72h18.75v3.75h-18.75zM559.23,1336.47h18.75v3.75h-18.75zM907.98,1336.47h18.75v3.75h-18.75zM577.98,1340.22h30v3.75h-30zM877.98,1340.22h30v3.75h-30zM607.98,1343.97h33.75v3.75h-33.75zM836.73,1343.97h41.25v3.75h-41.25zM641.73,1347.72h18.75v3.75h-18.75zM810.48,1347.72h26.25v3.75h-26.25zM660.48,1351.47h150v3.75h-150z" fill="#0072BD"/>
<path d="M716.3,1044.25h15v7.5h-15zM720.05,1040.5h7.5v15h-7.5zM667.3,1043.65h15v7.5h-15zM671.05,1039.9h7.5v15h-7.5zM615.7,1044.25h15v7.5h-15zM619.45,1040.5h7.5v15h-7.5zM565.2,1047.45h15v7.5h-15zM568.95,1043.7h7.5v15h-7.5zM515.9,1053.15h15v7.5h-15zM519.65,1049.4h7.5v15h-7.5zM467.4,1061.15h15v7.5h-15zM471.15,1057.4h7.5v15h-7.5zM421.9,1071.65h15v7.5h-15zM425.65,1067.9h7.5v15h-7.5zM382.6,1086.35h15v7.5h-15zM386.35,1082.6h7.5v15h-7.5zM348.9,1102.15h15v7.5h-15zM352.65,1098.4h7.5v15h-7.5zM322.9,1122.15h15v7.5h-15zM326.65,1118.4h7.5v15h-7.5zM305.3,1144.35h15v7.5h-15zM309.05,1140.6h7.5v15h-7.5zM297.3,1167.45h15v7.5h-15zM301.05,1163.7h7.5v15h-7.5zM299.4,1190.65h15v7.5h-15zM303.15,1186.9h7.5v15h-7.5zM310.9,1213.85h15v7.5h-15zM314.65,1210.1h7.5v15h-7.5zM330.5,1236.35h15v7.5h-15zM334.25,1232.6h7.5v15h-7.5zM359.8,1257.45h15v7.5h-15zM363.55,1253.7h7.5v15h-7.5zM396.2,1277.45h15v7.5h-15zM399.95,1273.7h7.5v15h-7.5zM435.6,1294.85h15v7.5h-15zM439.35,1291.1h7.5v15h-7.5zM481.1,1309.65h15v7.5h-15zM484.85,1305.9h7.5v15h-7.5zM528.3,1321.05h15v7.5h-15zM532.05,1317.3h7.5v15h-7.5zM578.4,1331.15h15v7.5h-15zM582.15,1327.4h7.5v15h-7.5zM629,1338.45h15v7.5h-15zM632.75,1334.7h7.5v15h-7.5zM679.1,1342.25h15v7.5h-15zM682.85,1338.5h7.5v15h-7.5zM727.4,1343.15h15v7.5h-15zM731.15,1339.4h7.5v15h-7.5zM777.9,1343.15h15v7.5h-15zM781.65,1339.4h7.5v15h-7.5zM828.9,1340.55h15v7.5h-15zM832.65,1336.8h7.5v15h-7.5zM879.8,1336.35h15v7.5h-15zM883.55,1332.6h7.5v15h-7.5zM928.9,1330.05h15v7.5h-15zM932.65,1326.3h7.5v15h-7.5zM975.2,1319.95h15v7.5h-15zM978.95,1316.2h7.5v15h-7.5zM1018.4,1307.95h15v7.5h-15zM1022.15,1304.2h7.5v15h-7.5zM1054.6,1292.15h15v7.5h-15zM1058.35,1288.4h7.5v15h-7.5zM1084.3,1273.25h15v7.5h-15zM1088.05,1269.5h7.5v15h-7.5zM1106.9,1253.85h15v7.5h-15zM1110.65,1250.1h7.5v15h-7.5zM1118.9,1231.05h15v7.5h-15zM1122.65,1227.3h7.5v15h-7.5zM1122.7,1207.45h15v7.5h-15zM1126.45,1203.7h7.5v15h-7.5zM1115.7,1184.75h15v7.5h-15zM1119.45,1181h7.5v15h-7.5zM1099.9,1161.15h15v7.5h-15zM1103.65,1157.4h7.5v15h-7.5zM1074.7,1138.45h15v7.5h-15zM1078.45,1134.7h7.5v15h-7.5zM1043.1,1117.95h15v7.5h-15zM1046.85,1114.2h7.5v15h-7.5zM1004.7,1099.45h15v7.5h-15zM1008.45,1095.7h7.5v15h-7.5zM961.6,1083.65h15v7.5h-15zM965.35,1079.9h7.5v15h-7.5zM914.8,1071.45h15v7.5h-15zM918.55,1067.7h7.5v15h-7.5zM866.4,1060.45h15v7.5h-15zM870.15,1056.7h7.5v15h-7.5zM816.2,1052.05h15v7.5h-15zM819.95,1048.3h7.5v15h-7.5zM764.2,1047.45h15v7.5h-15zM767.95,1043.7h7.5v15h-7.5z" fill="#D95319" fill-opacity=".2"/>
<path d="M720.05,1044.25h7.5v7.5h-7.5zM671.05,1043.65h7.5v7.5h-7.5zM619.45,1044.25h7.5v7.5h-7.5zM568.95,1047.45h7.5v7.5h-7.5zM519.65,1053.15h7.5v7.5h-7.5zM471.15,1061.15h7.5v7.5h-7.5zM425.65,1071.65h7.5v7.5h-7.5zM386.35,1086.35h7.5v7.5h-7.5zM352.65,1102.15h7.5v7.5h-7.5zM326.65,1122.15h7.5v7.5h-7.5zM309.05,1144.35h7.5v7.5h-7.5zM301.05,1167.45h7.5v7.5h-7.5zM303.15,1190.65h7.5v7.5h-7.5zM314.65,1213.85h7.5v7.5h-7.5zM334.25,1236.35h7.5v7.5h-7.5zM363.55,1257.45h7.5v7.5h-7.5zM399.95,1277.45h7.5v7.5h-7.5zM439.35,1294.85h7.5v7.5h-7.5zM484.85,1309.65h7.5v7.5h-7.5zM532.05,1321.05h7.5v7.5h-7.5zM582.15,1331.15h7.5v7.5h-7.5zM632.75,1338.45h7.5v7.5h-7.5zM682.85,1342.25h7.5v7.5h-7.5zM731.15,1343.15h7.5v7.5h-7.5zM781.65,1343.15h7.5v7.5h-7.5zM832.65,1340.55h7.5v7.5h-7.5zM883.55,1336.35h7.5v7.5h-7.5zM932.65,1330.05h7.5v7.5h-7.5zM978.95,1319.95h7.5v7.5h-7.5zM1022.15,1307.95h7.5v7.5h-7.5zM1058.35,1292.15h7.5v7.5h-7.5zM1088.05,1273.25h7.5v7.5h-7.5zM1110.65,1253.85h7.5v7.5h-7.5zM1122.65,1231.05h7.5v7.5h-7.5zM1126.45,1207.45h7.5v7.5h-7.5zM1119.45,1184.75h7.5v7.5h-7.5zM1103.65,1161.15h7.5v7.5h-7.5zM1078.45,1138.45h7.5v7.5h-7.5zM1046.85,1117.95h7.5v7.5h-7.5zM1008.45,1099.45h7.5v7.5h-7.5zM965.35,1083.65h7.5v7.5h-7.5zM918.55,1071.45h7.5v7.5h-7.5zM870.15,1060.45h7.5v7.5h-7.5zM819.95,1052.05h7.5v7.5h-7.5zM767.95,1047.45h7.5v7.5h-7.5z" fill="#D95319"/>
<text class="m" x="267.9" y="1613.8">-1</text>
<text class="m" x="494.8" y="1613.8">-0.5</text>
<text class="m" x="717.4" y="1613.8">0</text>
<text class="m" x="938.5" y="1613.8">0.5</text>
<text class="m" x="1162.6" y="1613.8">1</text>
<text class="r" x="251.5" y="997.6">5000</text>
<text class="r" x="247.9" y="1218.1">0</text>
<text class="r" x="247.9" y="1443">-5000</text>
<text class="g m" x="1078.4" y="943.8">(c)</text>
</g>
<g id="plot-d">
<rect x="1345" y="864" width="880" height="671" fill="none" stroke="#262626" stroke-width="3.8"/>
<path d="M1566,1533.1v-4M1566,865.9v4M1783,1533.1v-4M1783,865.9v4M2003.8,1533.1v-4M2003.8,865.9v4M1346.9,980.1h4M2223.1,980.1h-4M1346.9,1197.3h4M2223.1,1197.3h-4M1346.9,1418.4h4M2223.1,1418.4h-4" stroke="#262626" stroke-width="3.8" fill="none"/>
<path d="M1649.38,1083.33h217.5v3.75h-217.5zM1608.12,1087.08h41.25v3.75h-41.25zM1866.88,1087.08h22.5v3.75h-22.5zM1581.88,1090.83h26.25v3.75h-26.25zM1889.38,1090.83h30v3.75h-30zM1566.88,1094.58h15v3.75h-15zM1919.38,1094.58h22.5v3.75h-22.5zM1551.88,1098.33h15v3.75h-15zM1941.88,1098.33h18.75v3.75h-18.75zM1533.12,1102.08h18.75v3.75h-18.75zM1960.62,1102.08h18.75v3.75h-18.75zM1521.88,1105.83h11.25v3.75h-11.25zM1979.38,1105.83h15v3.75h-15zM1506.88,1109.58h15v3.75h-15zM1994.38,1109.58h11.25v3.75h-11.25zM1491.88,1113.33h15v3.75h-15zM2005.62,1113.33h11.25v3.75h-11.25zM1480.62,1117.08h11.25v3.75h-11.25zM2016.88,1117.08h11.25v3.75h-11.25zM1473.12,1120.83h7.5v3.75h-7.5zM2028.12,1120.83h11.25v3.75h-11.25zM1461.88,1124.58h11.25v3.75h-11.25zM2039.38,1124.58h11.25v3.75h-11.25zM1454.38,1128.33h7.5v3.75h-7.5zM2050.62,1128.33h7.5v3.75h-7.5zM1446.88,1132.08h7.5v3.75h-7.5zM2058.12,1132.08h11.25v3.75h-11.25zM1443.12,1135.83h3.75v3.75h-3.75zM2069.38,1135.83h7.5v3.75h-7.5zM1439.38,1139.58h3.75v3.75h-3.75zM2076.88,1139.58h7.5v3.75h-7.5zM1435.62,1143.33h3.75v3.75h-3.75zM2084.38,1143.33h7.5v3.75h-7.5zM1431.88,1147.08h3.75v3.75h-3.75zM2091.88,1147.08h3.75v3.75h-3.75zM1428.12,1150.83h3.75v3.75h-3.75zM2095.62,1150.83h7.5v3.75h-7.5zM1424.38,1154.58h3.75v3.75h-3.75zM2103.12,1154.58h7.5v3.75h-7.5zM1420.62,1158.33h3.75v3.75h-3.75zM2110.62,1158.33h3.75v3.75h-3.75zM1420.62,1162.08h3.75v3.75h-3.75zM2114.38,1162.08h7.5v3.75h-7.5zM1416.88,1165.83h3.75v3.75h-3.75zM2121.88,1165.83h3.75v3.75h-3.75zM1416.88,1169.58h3.75v3.75h-3.75zM2125.62,1169.58h3.75v3.75h-3.75zM1413.12,1173.33h3.75v3.75h-3.75zM2129.38,1173.33h3.75v3.75h-3.75zM1413.12,1177.08h3.75v3.75h-3.75zM2133.12,1177.08h3.75v3.75h-3.75zM1413.12,1180.83h3.75v3.75h-3.75zM2136.88,1180.83h3.75v3.75h-3.75zM1413.12,1184.58h3.75v3.75h-3.75zM2140.62,1184.58h3.75v3.75h-3.75zM1413.12,1188.33h3.75v3.75h-3.75zM2144.38,1188.33h3.75v3.75h-3.75zM1413.12,1192.08h3.75v3.75h-3.75zM2148.12,1192.08h3.75v3.75h-3.75zM1413.12,1195.83h3.75v3.75h-3.75zM2148.12,1195.83h3.75v3.75h-3.75zM1416.88,1199.58h3.75v3.75h-3.75zM2151.88,1199.58h3.75v3.75h-3.75zM1420.62,1203.33h3.75v3.75h-3.75zM2151.88,1203.33h3.75v3.75h-3.75zM1420.62,1207.08h3.75v3.75h-3.75zM2151.88,1207.08h3.75v3.75h-3.75zM1424.38,1210.83h3.75v3.75h-3.75zM2151.88,1210.83h3.75v3.75h-3.75zM1428.12,1214.58h3.75v3.75h-3.75zM2151.88,1214.58h3.75v3.75h-3.75zM1431.88,1218.33h3.75v3.75h-3.75zM2151.88,1218.33h3.75v3.75h-3.75zM1435.62,1222.08h3.75v3.75h-3.75zM2151.88,1222.08h3.75v3.75h-3.75zM1439.38,1225.83h3.75v3.75h-3.75zM2148.12,1225.83h3.75v3.75h-3.75zM1443.12,1229.58h7.5v3.75h-7.5zM2148.12,1229.58h3.75v3.75h-3.75zM1450.62,1233.33h3.75v3.75h-3.75zM2144.38,1233.33h3.75v3.75h-3.75zM1454.38,1237.08h3.75v3.75h-3.75zM2144.38,1237.08h3.75v3.75h-3.75zM1458.12,1240.83h7.5v3.75h-7.5zM2140.62,1240.83h3.75v3.75h-3.75zM1465.62,1244.58h7.5v3.75h-7.5zM2136.88,1244.58h3.75v3.75h-3.75zM1473.12,1248.33h7.5v3.75h-7.5zM2133.12,1248.33h3.75v3.75h-3.75zM1480.62,1252.08h7.5v3.75h-7.5zM2129.38,1252.08h3.75v3.75h-3.75zM1488.12,1255.83h7.5v3.75h-7.5zM2125.62,1255.83h3.75v3.75h-3.75zM1495.62,1259.58h7.5v3.75h-7.5zM2118.12,1259.58h7.5v3.75h-7.5zM1503.12,1263.33h11.25v3.75h-11.25zM2110.62,1263.33h7.5v3.75h-7.5zM1514.38,1267.08h7.5v3.75h-7.5zM2103.12,1267.08h7.5v3.75h-7.5zM1521.88,1270.83h11.25v3.75h-11.25zM2095.62,1270.83h7.5v3.75h-7.5zM1533.12,1274.58h11.25v3.75h-11.25zM2084.38,1274.58h11.25v3.75h-11.25zM1544.38,1278.33h11.25v3.75h-11.25zM2073.12,1278.33h11.25v3.75h-11.25zM1555.62,1282.08h15v3.75h-15zM2061.88,1282.08h11.25v3.75h-11.25zM1570.62,1285.83h11.25v3.75h-11.25zM2046.88,1285.83h15v3.75h-15zM1581.88,1289.58h15v3.75h-15zM2031.88,1289.58h15v3.75h-15zM1596.88,1293.33h15v3.75h-15zM2020.62,1293.33h11.25v3.75h-11.25zM1611.88,1297.08h18.75v3.75h-18.75zM1998.12,1297.08h22.5v3.75h-22.5zM1630.62,1300.83h22.5v3.75h-22.5zM1975.62,1300.83h22.5v3.75h-22.5zM1653.12,1304.58h33.75v3.75h-33.75zM1941.88,1304.58h33.75v3.75h-33.75zM1686.88,1308.33h26.25v3.75h-26.25zM1911.88,1308.33h30v3.75h-30zM1713.12,1312.08h198.75v3.75h-198.75z" fill="#0072BD"/>
<path d="M1780.5,1084.65h15v7.5h-15zM1784.25,1080.9h7.5v15h-7.5zM1741.2,1082.95h15v7.5h-15zM1744.95,1079.2h7.5v15h-7.5zM1701.7,1082.95h15v7.5h-15zM1705.45,1079.2h7.5v15h-7.5zM1661.7,1082.95h15v7.5h-15zM1665.45,1079.2h7.5v15h-7.5zM1619.4,1085.85h15v7.5h-15zM1623.15,1082.1h7.5v15h-7.5zM1580,1089.75h15v7.5h-15zM1583.75,1086h7.5v15h-7.5zM1540.2,1096.45h15v7.5h-15zM1543.95,1092.7h7.5v15h-7.5zM1503.3,1106.05h15v7.5h-15zM1507.05,1102.3h7.5v15h-7.5zM1470,1117.95h15v7.5h-15zM1473.75,1114.2h7.5v15h-7.5zM1443.7,1132.95h15v7.5h-15zM1447.45,1129.2h7.5v15h-7.5zM1427.1,1150.25h15v7.5h-15zM1430.85,1146.5h7.5v15h-7.5zM1418.5,1168.95h15v7.5h-15zM1422.25,1165.2h7.5v15h-7.5zM1422.9,1189.55h15v7.5h-15zM1426.65,1185.8h7.5v15h-7.5zM1436.3,1208.95h15v7.5h-15zM1440.05,1205.2h7.5v15h-7.5zM1458.1,1227.95h15v7.5h-15zM1461.85,1224.2h7.5v15h-7.5zM1488.3,1245.25h15v7.5h-15zM1492.05,1241.5h7.5v15h-7.5zM1522.9,1260.25h15v7.5h-15zM1526.65,1256.5h7.5v15h-7.5zM1561,1273.15h15v7.5h-15zM1564.75,1269.4h7.5v15h-7.5zM1596.9,1284.35h15v7.5h-15zM1600.65,1280.6h7.5v15h-7.5zM1638.8,1292.55h15v7.5h-15zM1642.55,1288.8h7.5v15h-7.5zM1679.2,1298.75h15v7.5h-15zM1682.95,1295h7.5v15h-7.5zM1717.5,1303.55h15v7.5h-15zM1721.25,1299.8h7.5v15h-7.5zM1756,1305.45h15v7.5h-15zM1759.75,1301.7h7.5v15h-7.5zM1793.1,1307.45h15v7.5h-15zM1796.85,1303.7h7.5v15h-7.5zM1835.8,1308.95h15v7.5h-15zM1839.55,1305.2h7.5v15h-7.5zM1874.4,1307.75h15v7.5h-15zM1878.15,1304h7.5v15h-7.5zM1913.8,1306.45h15v7.5h-15zM1917.55,1302.7h7.5v15h-7.5zM1956.5,1303.55h15v7.5h-15zM1960.25,1299.8h7.5v15h-7.5zM1995.6,1297.45h15v7.5h-15zM1999.35,1293.7h7.5v15h-7.5zM2033.1,1288.75h15v7.5h-15zM2036.85,1285h7.5v15h-7.5zM2067.7,1278.15h15v7.5h-15zM2071.45,1274.4h7.5v15h-7.5zM2098.8,1265.05h15v7.5h-15zM2102.55,1261.3h7.5v15h-7.5zM2121.9,1249.75h15v7.5h-15zM2125.65,1246h7.5v15h-7.5zM2134,1231.45h15v7.5h-15zM2137.75,1227.7h7.5v15h-7.5zM2136,1211.25h15v7.5h-15zM2139.75,1207.5h7.5v15h-7.5zM2126.7,1191.45h15v7.5h-15zM2130.45,1187.7h7.5v15h-7.5zM2107.5,1171.85h15v7.5h-15zM2111.25,1168.1h7.5v15h-7.5zM2081.5,1152.95h15v7.5h-15zM2085.25,1149.2h7.5v15h-7.5zM2050.4,1137.25h15v7.5h-15zM2054.15,1133.5h7.5v15h-7.5zM2015.2,1123.35h15v7.5h-15zM2018.95,1119.6h7.5v15h-7.5zM1975.4,1111.85h15v7.5h-15zM1979.15,1108.1h7.5v15h-7.5zM1936.3,1102.55h15v7.5h-15zM1940.05,1098.8h7.5v15h-7.5zM1896,1094.95h15v7.5h-15zM1899.75,1091.2h7.5v15h-7.5zM1856.9,1090.05h15v7.5h-15zM1860.65,1086.3h7.5v15h-7.5zM1818.1,1086.85h15v7.5h-15zM1821.85,1083.1h7.5v15h-7.5z" fill="#D95319" fill-opacity=".2"/>
<path d="M1784.25,1084.65h7.5v7.5h-7.5zM1744.95,1082.95h7.5v7.5h-7.5zM1705.45,1082.95h7.5v7.5h-7.5zM1665.45,1082.95h7.5v7.5h-7.5zM1623.15,1085.85h7.5v7.5h-7.5zM1583.75,1089.75h7.5v7.5h-7.5zM1543.95,1096.45h7.5v7.5h-7.5zM1507.05,1106.05h7.5v7.5h-7.5zM1473.75,1117.95h7.5v7.5h-7.5zM1447.45,1132.95h7.5v7.5h-7.5zM1430.85,1150.25h7.5v7.5h-7.5zM1422.25,1168.95h7.5v7.5h-7.5zM1426.65,1189.55h7.5v7.5h-7.5zM1440.05,1208.95h7.5v7.5h-7.5zM1461.85,1227.95h7.5v7.5h-7.5zM1492.05,1245.25h7.5v7.5h-7.5zM1526.65,1260.25h7.5v7.5h-7.5zM1564.75,1273.15h7.5v7.5h-7.5zM1600.65,1284.35h7.5v7.5h-7.5zM1642.55,1292.55h7.5v7.5h-7.5zM1682.95,1298.75h7.5v7.5h-7.5zM1721.25,1303.55h7.5v7.5h-7.5zM1759.75,1305.45h7.5v7.5h-7.5zM1796.85,1307.45h7.5v7.5h-7.5zM1839.55,1308.95h7.5v7.5h-7.5zM1878.15,1307.75h7.5v7.5h-7.5zM1917.55,1306.45h7.5v7.5h-7.5zM1960.25,1303.55h7.5v7.5h-7.5zM1999.35,1297.45h7.5v7.5h-7.5zM2036.85,1288.75h7.5v7.5h-7.5zM2071.45,1278.15h7.5v7.5h-7.5zM2102.55,1265.05h7.5v7.5h-7.5zM2125.65,1249.75h7.5v7.5h-7.5zM2137.75,1231.45h7.5v7.5h-7.5zM2139.75,1211.25h7.5v7.5h-7.5zM2130.45,1191.45h7.5v7.5h-7.5zM2111.25,1171.85h7.5v7.5h-7.5zM2085.25,1152.95h7.5v7.5h-7.5zM2054.15,1137.25h7.5v7.5h-7.5zM2018.95,1123.35h7.5v7.5h-7.5zM1979.15,1111.85h7.5v7.5h-7.5zM1940.05,1102.55h7.5v7.5h-7.5zM1899.75,1094.95h7.5v7.5h-7.5zM1860.65,1090.05h7.5v7.5h-7.5zM1821.85,1086.85h7.5v7.5h-7.5z" fill="#D95319"/>
<text class="m" x="1341.2" y="1609.9">-2</text>
<text class="m" x="1562.3" y="1609.9">-1</text>
<text class="m" x="1783.3" y="1609.9">0</text>
<text class="m" x="2003.8" y="1609.9">1</text>
<text class="m" x="2224.9" y="1609.9">2</text>
<text class="r" x="1320.8" y="1001.1">1</text>
<text class="r" x="1320.8" y="1222.4">0</text>
<text class="r" x="1320.8" y="1443.1">-1</text>
<text class="g m" x="2146.5" y="943.9">(d)</text>
</g>
<text class="l" transform="translate(87.9,471.3) rotate(-90)">H<tspan class="s" dy="27" dx="2">y</tspan><tspan dy="-27"> [A/m]</tspan></text>
<text class="l" transform="translate(64.5,1308.4) rotate(-90)">H<tspan class="s" dy="27" dx="2">y</tspan><tspan dy="-27"> [A/m]</tspan></text>
<text class="l" x="606.2" y="1691.2">H<tspan class="s" dy="27.4" dx="2">x</tspan><tspan dy="-27.4" style="letter-spacing:.6px"> [A/m]</tspan></text>
<text class="l" x="1672" y="1691.2">H<tspan class="s" dy="27.4" dx="2">x</tspan><tspan dy="-27.4" style="letter-spacing:.6px"> [A/m]</tspan></text>
<text class="x" x="1041.88" y="1704.2">×</text><text x="1078.7" y="1699.2">10</text><text class="e" x="1137.6" y="1675.2">4</text>
<text class="x" x="2102.88" y="1704.2">×</text><text x="2139.7" y="1699.2">10</text><text class="e" x="2198.6" y="1675.2">4</text>
<text class="x" x="1347.48" y="855.5">×</text><text x="1384.3" y="850.5">10</text><text class="e" x="1443.2" y="826.5">4</text>
<g id="legend">
<rect x="1911.2" y="1356.4" width="274.6" height="143.5" fill="#fff" stroke="#262626" stroke-width="3.8"/>
<path d="M1928.1,1398.8H2044.8" stroke="#0072BD" stroke-width="3.8"/>
<path d="M1978.8,1458.65h15v7.5h-15zM1982.55,1454.9h7.5v15h-7.5z" fill="#D95319" fill-opacity=".2"/>
<path d="M1982.55,1458.65h7.5v7.5h-7.5z" fill="#D95319"/>
<text class="k" x="2056.2" y="1416">NS</text>
<text class="k" x="2056.2" y="1481.6">Meas</text>
</g>
</svg></body></html>
